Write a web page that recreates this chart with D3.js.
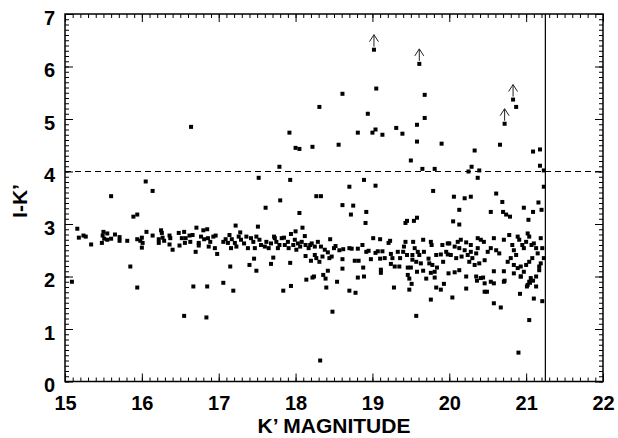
<!DOCTYPE html>
<html>
<head>
<meta charset="utf-8">
<script src="https://cdn.jsdelivr.net/npm/d3@7"></script>
<style>
  body { margin: 0; background: #fff; }
  svg { display: block; }
  svg text { font-family: 'Liberation Sans', Arial, sans-serif; font-weight: bold; fill: #000; }
</style>
</head>
<body>
<div id="root"></div>
<script>
// tick labels
const xTicks = [15, 16, 17, 18, 19, 20, 21, 22];
const yTicks = [0, 1, 2, 3, 4, 5, 6, 7];
const xLabel = 'K’ MAGNITUDE';
const yLabel = 'I-K’';

// reference lines
const colorCut = 4;
const magLimit = 21.25;

// [K', I-K']
const redStars = [
  [15.60, 3.53], [16.05, 3.81], [16.14, 3.63], [16.64, 4.85], [17.52, 3.88],
  [17.79, 4.09], [17.92, 4.74], [17.93, 3.84], [18.00, 4.45], [18.05, 4.43],
  [18.22, 4.47], [18.31, 5.23], [18.27, 3.53], [18.33, 3.53], [18.56, 4.51],
  [17.80, 3.45], [18.61, 5.48], [19.05, 5.58], [19.68, 5.46], [18.94, 5.10],
  [19.68, 5.02], [20.87, 5.23], [19.58, 4.89], [18.81, 4.74], [19.00, 4.74],
  [19.04, 4.80], [19.13, 4.70], [19.31, 4.83], [19.39, 4.72], [19.58, 4.57],
  [19.90, 4.53], [20.66, 4.51], [20.33, 4.40], [21.09, 4.38], [21.18, 4.42],
  [19.50, 4.21], [21.18, 4.11], [19.65, 4.05], [19.81, 4.05], [20.29, 4.09],
  [20.25, 4.00], [20.39, 4.02], [20.37, 3.88], [21.23, 4.02], [18.70, 3.71],
  [18.89, 3.84], [19.04, 3.73], [19.79, 3.63], [20.06, 3.52], [20.20, 3.49],
  [20.28, 3.52], [20.61, 3.58], [21.23, 3.71], [18.61, 3.36], [18.75, 3.35],
  [18.72, 3.18], [18.92, 3.23], [18.91, 3.02], [19.43, 3.02], [19.45, 3.06],
  [19.54, 3.06], [19.58, 3.12], [20.13, 3.27], [20.05, 3.05], [20.13, 2.99],
  [20.54, 3.23], [20.69, 3.42], [20.70, 3.23], [20.74, 3.18], [20.79, 3.14],
  [20.97, 3.31], [21.09, 3.23], [21.16, 3.41], [21.20, 3.27], [21.03, 3.08],
  [15.89, 3.14], [15.94, 3.18], [17.61, 3.31], [18.05, 3.21]
];

// lower limits (drawn with an arrow)
const limitStars = [
  [19.02, 6.32], [19.61, 6.05], [20.83, 5.37], [20.72, 4.91]
];

const blueStars = [
  [15.09, 1.90], [15.85, 2.19], [15.94, 1.79], [16.67, 1.81], [16.85, 1.81],
  [16.55, 1.25], [16.84, 1.22], [17.06, 1.88], [17.19, 1.73], [17.15, 2.19],
  [17.40, 2.22], [17.46, 2.34], [17.49, 2.11], [17.68, 2.24], [17.71, 2.36],
  [17.93, 2.26], [17.84, 1.73], [17.94, 1.82], [18.14, 1.94], [18.22, 1.98],
  [18.24, 2.00], [18.40, 1.79], [18.48, 1.33], [18.32, 0.40], [18.36, 2.03],
  [18.39, 1.96], [18.42, 2.11], [18.54, 1.90], [18.20, 2.30], [18.31, 2.28],
  [18.70, 1.73], [18.78, 1.69], [18.81, 1.98], [18.89, 2.00], [18.61, 2.15],
  [18.88, 2.17], [19.11, 2.13], [19.11, 2.07], [19.28, 1.79], [19.48, 1.75],
  [19.57, 1.25], [19.76, 1.56], [19.83, 1.79], [19.89, 1.75], [19.93, 1.86],
  [19.48, 1.96], [19.51, 1.86], [19.46, 2.03], [19.70, 1.96], [19.81, 1.98],
  [19.66, 2.11], [19.76, 2.07], [20.90, 0.55], [21.04, 1.17], [20.92, 1.67],
  [21.21, 1.53], [21.10, 1.58], [19.99, 2.06], [20.07, 2.08], [20.13, 2.12],
  [20.22, 2.00], [20.22, 1.77], [20.35, 2.00], [20.41, 1.97], [20.46, 1.87],
  [20.54, 1.90], [20.58, 1.87], [20.58, 2.10], [20.46, 1.71], [20.49, 1.71],
  [20.71, 1.90], [20.71, 2.10], [20.84, 2.06], [20.93, 2.00], [20.97, 2.09],
  [21.02, 1.84], [21.04, 1.90], [21.06, 1.97], [21.13, 2.00], [21.13, 1.81],
  [20.04, 1.60], [20.58, 1.49], [20.67, 1.41], [20.36, 1.92], [20.44, 1.98],
  [20.72, 1.92], [21.01, 1.81], [21.05, 1.88], [21.09, 1.92], [20.93, 2.00]
];

const bandStars = [
  [15.16, 2.91], [15.18, 2.74], [15.24, 2.78], [15.27, 2.76], [15.34, 2.61],
  [15.50, 2.85], [15.49, 2.78], [15.55, 2.82], [15.51, 2.72], [15.55, 2.70],
  [15.60, 2.72], [15.48, 2.64], [15.65, 2.80], [15.71, 2.75], [15.71, 2.68],
  [15.81, 2.68], [15.94, 2.71], [15.98, 2.68], [16.01, 2.64], [16.00, 2.74],
  [16.00, 2.55], [16.06, 2.85], [16.14, 2.78], [16.22, 2.71], [16.22, 2.64],
  [16.25, 2.88], [16.26, 2.83], [16.27, 2.74], [16.29, 2.68], [16.36, 2.78],
  [16.37, 2.73], [16.36, 2.61], [16.40, 2.51], [16.48, 2.83], [16.49, 2.59],
  [16.55, 2.85], [16.52, 2.73], [16.57, 2.73], [16.56, 2.64], [16.63, 2.66],
  [16.66, 2.79], [16.62, 2.78], [16.71, 2.93], [16.74, 2.64], [16.74, 2.59],
  [16.77, 2.76], [16.70, 2.47], [16.80, 2.88], [16.85, 2.90], [17.22, 2.97],
  [17.51, 2.95], [18.09, 2.93], [16.81, 2.71], [16.86, 2.73], [16.89, 2.66],
  [16.87, 2.57], [16.95, 2.54], [16.98, 2.43], [16.93, 2.76], [16.96, 2.78],
  [17.06, 2.66], [17.09, 2.71], [17.12, 2.64], [17.14, 2.79], [17.16, 2.54],
  [17.17, 2.71], [17.21, 2.64], [17.23, 2.57], [17.26, 2.76], [17.29, 2.70],
  [17.28, 2.84], [17.33, 2.63], [17.36, 2.76], [17.38, 2.54], [17.42, 2.73],
  [17.45, 2.66], [17.47, 2.54], [17.49, 2.76], [17.53, 2.70], [17.55, 2.60],
  [17.60, 2.57], [17.62, 2.66], [17.65, 2.54], [17.68, 2.63], [17.72, 2.76],
  [17.73, 2.73], [17.75, 2.66], [17.77, 2.54], [17.79, 2.60], [17.82, 2.73],
  [17.85, 2.74], [17.86, 2.60], [17.94, 2.81], [18.00, 2.86], [17.90, 2.66],
  [17.91, 2.54], [17.97, 2.60], [17.99, 2.70], [18.01, 2.51], [18.03, 2.63],
  [18.06, 2.57], [18.08, 2.66], [18.12, 2.77], [18.13, 2.60], [18.17, 2.54],
  [18.19, 2.60], [18.21, 2.63], [18.25, 2.57], [18.29, 2.66], [18.33, 2.57],
  [18.38, 2.51], [18.42, 2.46], [18.45, 2.71], [18.44, 2.35], [18.47, 2.38],
  [18.50, 2.54], [18.25, 2.41], [18.27, 2.35], [18.35, 2.38], [18.13, 2.39],
  [18.52, 2.58], [18.57, 2.50], [18.62, 2.52], [18.61, 2.33], [18.70, 2.54],
  [18.73, 2.53], [18.81, 2.53], [18.77, 2.30], [18.82, 2.30], [18.87, 2.60],
  [18.92, 2.47], [18.95, 2.49], [18.98, 2.33], [19.01, 2.73], [19.04, 2.45],
  [19.07, 2.48], [19.10, 2.34], [19.10, 2.71], [19.13, 2.48], [19.16, 2.35],
  [19.21, 2.64], [19.23, 2.68], [19.24, 2.43], [19.26, 2.35], [19.24, 2.24],
  [19.29, 2.19], [19.35, 2.19], [19.36, 2.35], [19.33, 2.47], [19.40, 2.47],
  [19.41, 2.57], [19.43, 2.66], [19.45, 2.41], [19.46, 2.17], [19.50, 2.17],
  [19.52, 2.41], [19.52, 2.32], [19.53, 2.66], [19.55, 2.54], [19.57, 2.28],
  [19.58, 2.09], [19.59, 2.47], [19.61, 2.41], [19.63, 2.25], [19.66, 2.70],
  [19.67, 2.47], [19.73, 2.34], [19.74, 2.25], [19.76, 2.66], [19.77, 2.60],
  [19.78, 2.22], [19.81, 2.09], [19.83, 2.41], [19.84, 2.17], [19.89, 2.42],
  [19.91, 2.60], [19.92, 2.28], [19.98, 2.63], [19.98, 2.42], [20.11, 2.66],
  [20.15, 2.70], [20.22, 2.65], [20.28, 2.60], [20.00, 2.63], [20.07, 2.57],
  [20.13, 2.54], [20.20, 2.50], [19.96, 2.47], [20.02, 2.41], [20.09, 2.35],
  [20.16, 2.38], [20.24, 2.41], [20.28, 2.47], [20.37, 2.73], [20.41, 2.70],
  [20.45, 2.66], [20.37, 2.54], [20.35, 2.44], [20.30, 2.35], [20.26, 2.28],
  [20.33, 2.22], [20.39, 2.25], [20.46, 2.31], [20.50, 2.47], [20.54, 2.54],
  [20.58, 2.73], [20.61, 2.50], [20.65, 2.44], [20.71, 2.70], [20.78, 2.79],
  [20.82, 2.60], [20.84, 2.50], [20.87, 2.41], [20.80, 2.35], [20.76, 2.28],
  [20.89, 2.76], [20.91, 2.70], [20.95, 2.60], [20.97, 2.54], [21.00, 2.66],
  [21.02, 2.82], [21.04, 2.76], [21.07, 2.60], [21.10, 2.63], [21.13, 2.54],
  [21.15, 2.44], [21.19, 2.73], [21.21, 2.54], [21.23, 2.35], [21.08, 2.35],
  [21.04, 2.28], [21.00, 2.22], [20.93, 2.19], [20.89, 2.16], [20.84, 2.22],
  [21.17, 2.19], [21.17, 2.12], [21.19, 2.25]
];

function drawChart() {
  const dimensions = {
    width: 618,
    height: 438,
    margin: {
      top: 14,
      right: 15,
      bottom: 56.5,
      left: 65,
    },
  };

  dimensions.boundedWidth =
    dimensions.width - (dimensions.margin.left + dimensions.margin.right);
  dimensions.boundedHeight =
    dimensions.height - (dimensions.margin.top + dimensions.margin.bottom);

  const xScale = d3
    .scaleLinear()
    .domain([15, 22])
    .range([0, dimensions.boundedWidth]);

  const yScale = d3
    .scaleLinear()
    .domain([0, 7])
    .range([dimensions.boundedHeight, 0]);

  const xMinor = d3.range(150, 221).map(d => d / 10);
  const yMinor = d3.range(0, 71).map(d => d / 10);
  const intFormat = d3.format('d');

  const wrapper = d3
    .select('#root')
    .append('svg')
    .attr('width', dimensions.width)
    .attr('height', dimensions.height)
    .attr('viewBox', [0, 0, dimensions.width, dimensions.height]);

  const bounds = wrapper
    .append('g')
    .attr(
      'transform',
      `translate(${dimensions.margin.left}, ${dimensions.margin.top})`
    );

  // axes: major + minor ticks pointing inward on all four sides
  const axisGroup = bounds.append('g');

  const addAxis = (generator, transform) => {
    const g = axisGroup.append('g').attr('transform', transform).call(generator);
    g.select('path.domain').remove();
    g.selectAll('line').attr('stroke', '#000').attr('stroke-width', 1);
    return g;
  };

  const bottom = `translate(0, ${dimensions.boundedHeight})`;
  const right = `translate(${dimensions.boundedWidth}, 0)`;

  addAxis(d3.axisBottom(xScale).tickValues(xMinor).tickSize(-4).tickFormat(''), bottom);
  addAxis(
    d3.axisBottom(xScale).tickValues(xTicks).tickSize(-8).tickPadding(14).tickFormat(intFormat),
    bottom
  );
  addAxis(d3.axisTop(xScale).tickValues(xMinor).tickSize(-4).tickFormat(''), '');
  addAxis(d3.axisTop(xScale).tickValues(xTicks).tickSize(-8).tickFormat(''), '');

  addAxis(d3.axisLeft(yScale).tickValues(yMinor).tickSize(-4).tickFormat(''), '');
  const yAxisGroup = addAxis(
    d3.axisLeft(yScale).tickValues(yTicks).tickSize(-8).tickPadding(10).tickFormat(intFormat),
    ''
  );
  addAxis(d3.axisRight(yScale).tickValues(yMinor).tickSize(-4).tickFormat(''), right);
  addAxis(d3.axisRight(yScale).tickValues(yTicks).tickSize(-8).tickFormat(''), right);

  axisGroup
    .selectAll('g.tick text')
    .style('font-size', '20px')
    .style('font-weight', 'bold');

  yAxisGroup.selectAll('g.tick text').attr('dy', '0.5em');

  bounds
    .append('rect')
    .attr('width', dimensions.boundedWidth)
    .attr('height', dimensions.boundedHeight)
    .attr('fill', 'none')
    .attr('stroke', '#000')
    .attr('stroke-width', 1.5);

  // colour cut and completeness limit
  bounds
    .append('line')
    .attr('x1', 0)
    .attr('x2', dimensions.boundedWidth)
    .attr('y1', yScale(colorCut))
    .attr('y2', yScale(colorCut))
    .attr('stroke', '#000')
    .attr('stroke-width', 1)
    .attr('stroke-dasharray', '6 4');

  bounds
    .append('line')
    .attr('x1', xScale(magLimit))
    .attr('x2', xScale(magLimit))
    .attr('y1', 0)
    .attr('y2', dimensions.boundedHeight)
    .attr('stroke', '#000')
    .attr('stroke-width', 1.2);

  // stars
  const allStars = [...bandStars, ...blueStars, ...redStars, ...limitStars];
  bounds
    .append('g')
    .selectAll('rect')
    .data(allStars)
    .join('rect')
    .attr('x', d => xScale(d[0]) - 2)
    .attr('y', d => yScale(d[1]) - 2)
    .attr('width', 4)
    .attr('height', 4)
    .attr('fill', '#000');

  bounds
    .append('g')
    .selectAll('path')
    .data(limitStars)
    .join('path')
    .attr('transform', d => `translate(${xScale(d[0])}, ${yScale(d[1])})`)
    .attr('d', 'M0,-3V-15M-4.5,-8L0,-15L4.5,-8')
    .attr('fill', 'none')
    .attr('stroke', '#222')
    .attr('stroke-width', 1);

  // labels
  wrapper
    .append('text')
    .attr('x', dimensions.margin.left + dimensions.boundedWidth / 2)
    .attr('y', 433)
    .attr('text-anchor', 'middle')
    .style('font-size', '21px')
    .text(xLabel);

  wrapper
    .append('text')
    .attr('transform', 'translate(27, 201) rotate(-90)')
    .attr('text-anchor', 'middle')
    .style('font-size', '21px')
    .text(yLabel);
}

drawChart();
</script>
</body>
</html>
